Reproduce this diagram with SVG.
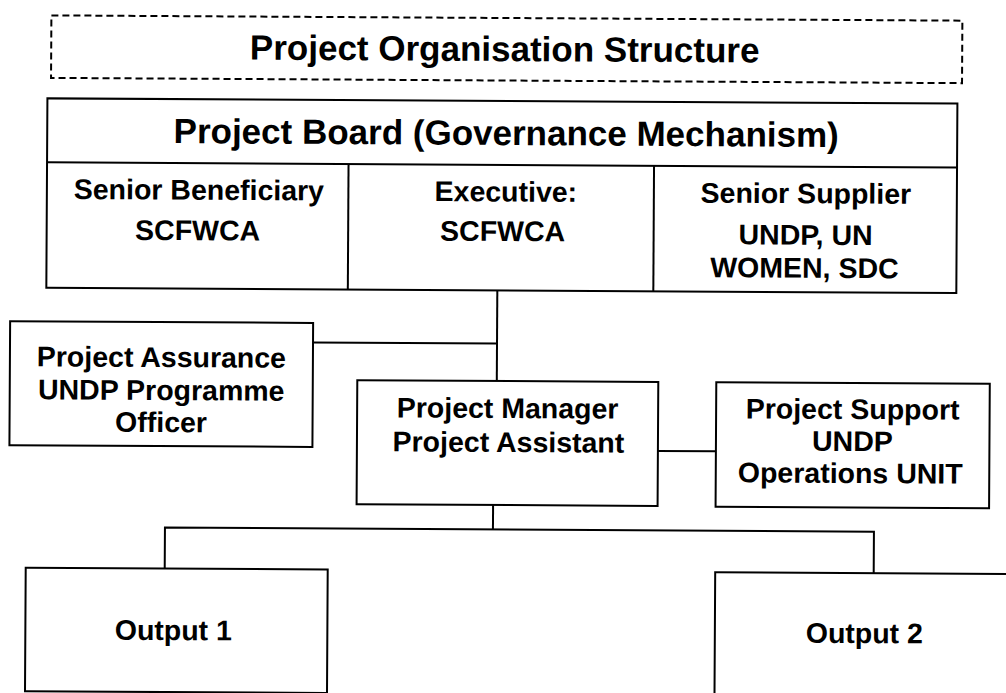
<svg xmlns="http://www.w3.org/2000/svg" width="1006" height="693" viewBox="0 0 1006 693">
  <style>
    .box { fill: #ffffff; stroke: #000000; stroke-width: 2; }
    .frame { fill: none; stroke: #000000; stroke-width: 2; }
    .dash { fill: none; stroke: #000000; stroke-width: 2; stroke-dasharray: 7 4; }
    .conn { fill: none; stroke: #000000; stroke-width: 2; }
    text { font-family: "Liberation Sans", Arial, Helvetica, sans-serif; font-weight: bold; fill: #000000; text-anchor: middle; }
    .big { font-size: 35px; }
    .lbl { font-size: 28.5px; }
  </style>
  <rect x="0" y="0" width="1006" height="693" fill="#ffffff"/>
  <!-- the whole chart sits slightly tilted -->
  <g transform="rotate(0.33 503 346)">
    <!-- connectors -->
    <g id="connectors">
      <polyline class="conn" points="497,290.5 497,381"/>
      <polyline class="conn" points="313,343.6 497,343.6"/>
      <polyline class="conn" points="658.5,450 716.5,450"/>
      <polyline class="conn" points="494,505 494,529.5"/>
      <polyline class="conn" points="166,570.5 166,529.5 875,529.5 875,571"/>
    </g>

    <!-- heading -->
    <g id="title">
      <rect class="dash" x="49.5" y="18" width="911" height="62.5"/>
      <text class="big" x="503" y="61">Project Organisation Structure</text>
    </g>

    <!-- project board -->
    <g id="project-board">
      <rect class="box" x="46" y="101" width="910" height="189.5"/>
      <line class="frame" x1="46" y1="165" x2="956" y2="165"/>
      <text class="big" x="505" y="145">Project Board (Governance Mechanism)</text>
    </g>
    <g id="senior-beneficiary">
      <text class="lbl" x="198" y="201.5">Senior Beneficiary</text>
      <text class="lbl" x="197" y="242">SCFWCA</text>
    </g>
    <g id="executive">
      <line class="frame" x1="347.5" y1="165" x2="347.5" y2="290.5"/>
      <text class="lbl" x="505" y="201.5">Executive:</text>
      <text class="lbl" x="502" y="241">SCFWCA</text>
    </g>
    <g id="senior-supplier">
      <line class="frame" x1="653" y1="165" x2="653" y2="290.5"/>
      <text class="lbl" x="805" y="201.5">Senior Supplier</text>
      <text class="lbl" x="805" y="243">UNDP, UN</text>
      <text class="lbl" x="804" y="276">WOMEN, SDC</text>
    </g>

    <!-- project assurance -->
    <g id="project-assurance">
      <rect class="box" x="10" y="324" width="303" height="124"/>
      <text class="lbl" x="161.5" y="369">Project Assurance</text>
      <text class="lbl" x="161.5" y="402">UNDP Programme</text>
      <text class="lbl" x="161.5" y="434">Officer</text>
    </g>

    <!-- project manager -->
    <g id="project-manager">
      <rect class="box" x="357.5" y="381" width="301" height="124"/>
      <text class="lbl" x="508" y="418">Project Manager</text>
      <text class="lbl" x="509" y="452">Project Assistant</text>
    </g>

    <!-- project support -->
    <g id="project-support">
      <rect class="box" x="716.5" y="381" width="273.5" height="124.5"/>
      <text class="lbl" x="853" y="417">Project Support</text>
      <text class="lbl" x="853" y="449">UNDP</text>
      <text class="lbl" x="851" y="481">Operations UNIT</text>
    </g>

    <!-- outputs -->
    <g id="output-1">
      <rect class="box" x="27" y="570.5" width="302" height="123.5"/>
      <text class="lbl" x="175" y="642">Output 1</text>
    </g>
    <g id="output-2">
      <rect class="box" x="716.5" y="571" width="330" height="140"/>
      <text class="lbl" x="866" y="641">Output 2</text>
    </g>
  </g>
</svg>
